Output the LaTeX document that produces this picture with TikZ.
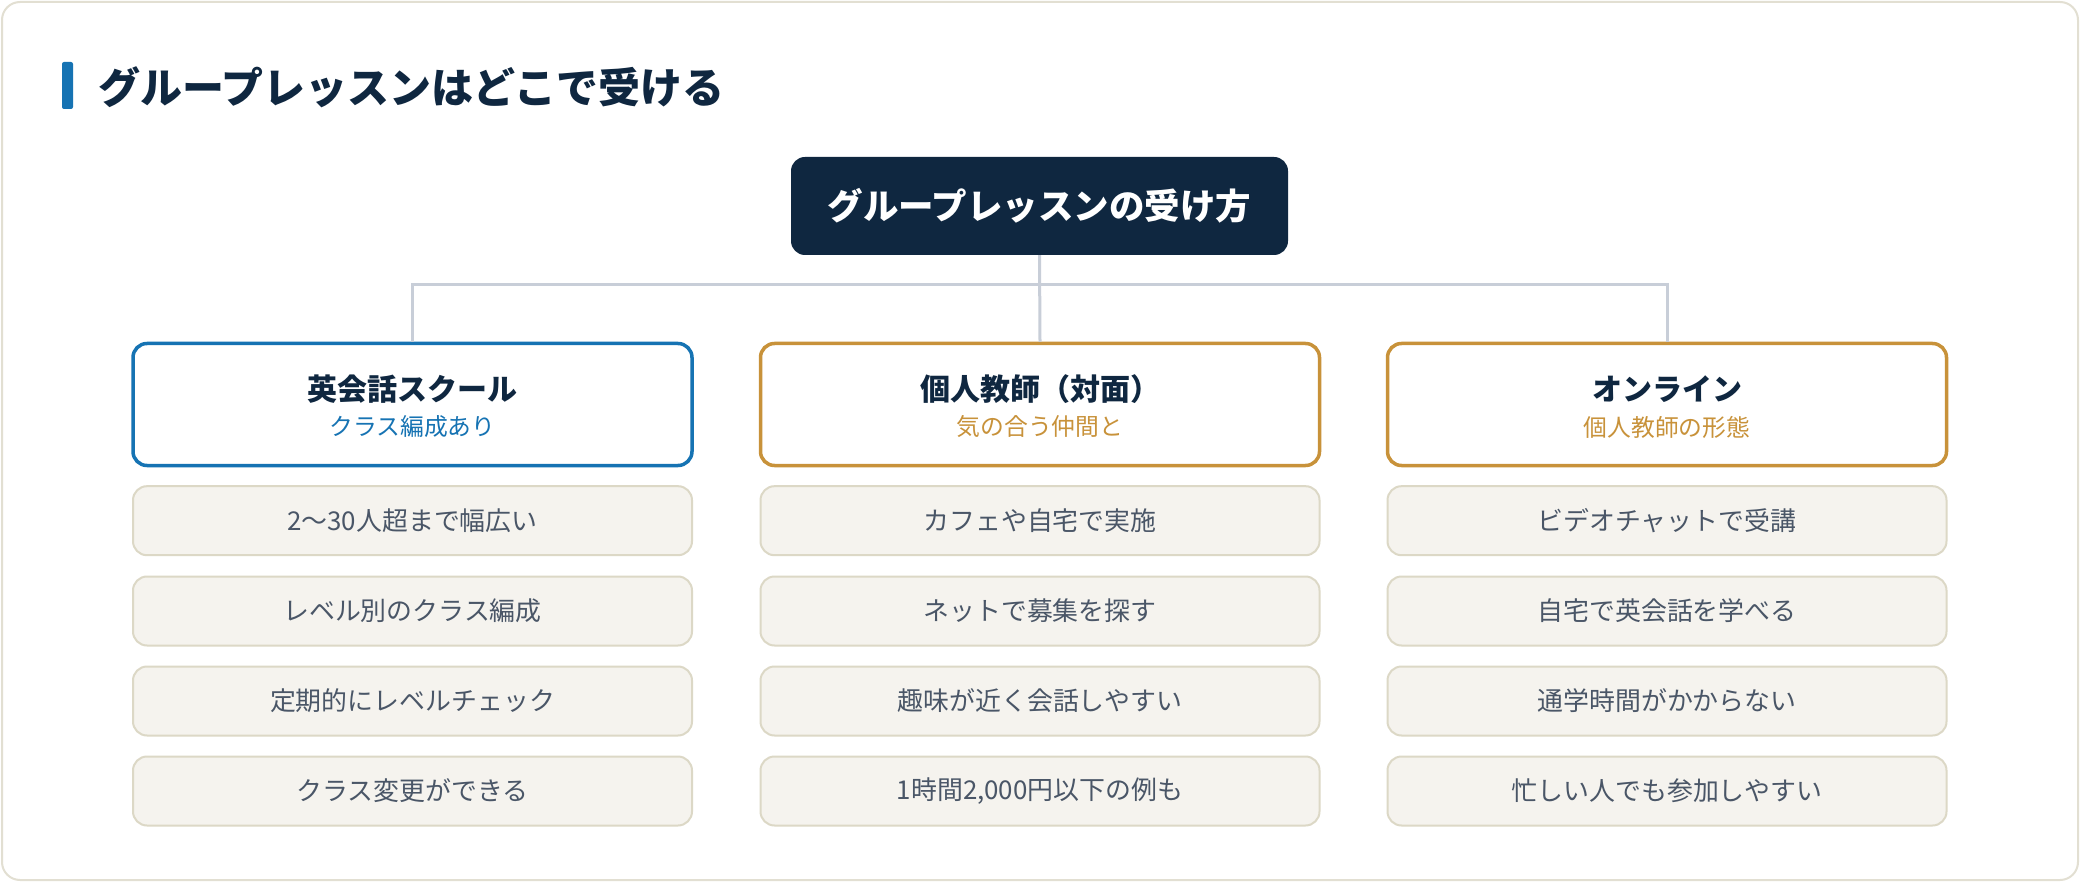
\documentclass[tikz,border=0pt]{standalone}
\usepackage{fontspec}
\setmainfont{Noto Sans CJK JP}
\usetikzlibrary{positioning}
\definecolor{navy}{HTML}{0F2740}
\definecolor{cblue}{HTML}{1673B3}
\definecolor{cgold}{HTML}{C8923A}
\definecolor{lineC}{HTML}{C8CED8}
\definecolor{itemfill}{HTML}{F5F3EE}
\definecolor{itemdraw}{HTML}{DCD8C6}
\definecolor{itemtext}{HTML}{4A5667}
\definecolor{frameC}{HTML}{E2DFD2}
\begin{document}
\begin{tikzpicture}[x=1pt,y=-1pt,
  rootbox/.style={fill=navy, rounded corners=14pt, minimum width=497pt, minimum height=98pt, inner sep=0pt, text=white, font=\bfseries\fontsize{35.5}{42}\selectfont},
  catbox/.style={fill=white, line width=3.5pt, rounded corners=14pt, minimum width=559pt, minimum height=122pt, inner sep=0pt},
  cathead/.style={inner sep=0pt, text=navy, font=\bfseries\fontsize{30}{36}\selectfont},
  catsub/.style={inner sep=0pt, font=\fontsize{23.8}{28}\selectfont},
  itembox/.style={fill=itemfill, draw=itemdraw, line width=2pt, rounded corners=14pt, minimum width=559pt, minimum height=69pt, inner sep=0pt, text=itemtext, font=\fontsize{25.9}{30}\selectfont},
  conn/.style={draw=lineC, line width=3pt}
]
\useasboundingbox (0,0) rectangle (2080,882);
% frame
\draw[frameC, line width=2pt, fill=white, rounded corners=18pt] (2,2) rectangle (2078,880);
% title
\fill[cblue, rounded corners=2pt] (62,62) rectangle (73,109);
\node[anchor=west, inner sep=0pt, text=navy, font=\bfseries\fontsize{42}{50}\selectfont] (title) at (98,87) {グループレッスンはどこで受ける};
% root
\node[rootbox] (root) at (1039.5,206) {グループレッスンの受け方};
% categories
\node[catbox, draw=cblue] (c1) at (412.5,404.5) {};
\node[catbox, draw=cgold] (c2) at (1040,404.5) {};
\node[catbox, draw=cgold] (c3) at (1667,404.5) {};
\node[cathead] (c1h) at (412.5,389) {英会話スクール};
\node[catsub, text=cblue] (c1s) at (412.5,427) {クラス編成あり};
\node[cathead] (c2h) at (1040,389) {個人教師（対面）};
\node[catsub, text=cgold] (c2s) at (1040,427) {気の合う仲間と};
\node[cathead] (c3h) at (1667,389) {オンライン};
\node[catsub, text=cgold] (c3s) at (1667,427) {個人教師の形態};
% connectors
\coordinate (hl) at (0,285);
\draw[conn] (root.south) -- (c2.north);
\draw[conn] (c1.north) -- (c1.north |- hl) -- (c3.north |- hl) -- (c3.north);
% items
\node[itembox] (a1) at (412.5,520.7) {2〜30人超まで幅広い};
\node[itembox] (a2) at (412.5,611) {レベル別のクラス編成};
\node[itembox] (a3) at (412.5,701) {定期的にレベルチェック};
\node[itembox] (a4) at (412.5,791) {クラス変更ができる};
\node[itembox] (b1) at (1040,520.7) {カフェや自宅で実施};
\node[itembox] (b2) at (1040,611) {ネットで募集を探す};
\node[itembox] (b3) at (1040,701) {趣味が近く会話しやすい};
\node[itembox] (b4) at (1040,791) {1時間2,000円以下の例も};
\node[itembox] (d1) at (1667,520.7) {ビデオチャットで受講};
\node[itembox] (d2) at (1667,611) {自宅で英会話を学べる};
\node[itembox] (d3) at (1667,701) {通学時間がかからない};
\node[itembox] (d4) at (1667,791) {忙しい人でも参加しやすい};
\end{tikzpicture}
\end{document}
